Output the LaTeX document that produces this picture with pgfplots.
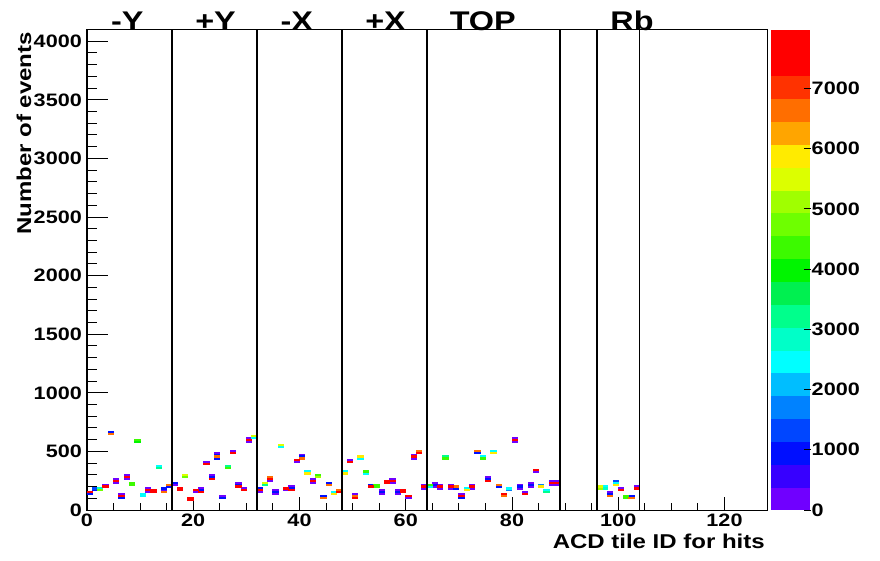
\documentclass[border=0pt]{standalone}
\usepackage{fontspec}
\setmainfont{Liberation Sans}
\newfontfamily\rootfont{Liberation Sans}[FakeStretch=1.2]
\usepackage{pgfplots}
\pgfplotsset{compat=1.18}
\usepackage{pgfplotstable}

\pgfdeclareplotmark{cell}{\pgfpathrectangle{\pgfpoint{-3.1pt}{-1.15pt}}{\pgfpoint{6.2pt}{2.3pt}}\pgfusepathqfill}

\pgfplotstableread{
x y c
0.5 152 7800
0.5 136 1000
1.5 184 1200
1.5 168 1000
2.5 184 2800
2.5 168 4600
3.5 216 200
3.5 200 7800
4.5 664 1000
4.5 648 6700
5.5 264 200
5.5 248 7800
5.5 232 200
6.5 136 200
6.5 120 7800
6.5 104 1000
7.5 296 200
7.5 280 7800
7.5 264 200
8.5 232 4200
8.5 216 4200
9.5 600 4200
9.5 584 4000
10.5 136 2600
10.5 120 2600
11.5 184 200
11.5 168 7800
11.5 152 200
12.5 168 7800
12.5 152 7800
13.5 376 2600
13.5 360 3300
14.5 184 1000
14.5 168 200
14.5 152 6700
15.5 216 6700
15.5 200 1000
16.5 232 1000
16.5 216 200
17.5 184 7800
17.5 168 7800
18.5 296 5400
18.5 280 4600
19.5 104 7800
19.5 88 7800
20.5 168 7800
20.5 152 200
21.5 184 200
21.5 168 1000
21.5 152 7800
22.5 408 200
22.5 392 7800
23.5 296 200
23.5 280 1000
23.5 264 7800
24.5 488 200
24.5 472 1000
24.5 456 6700
24.5 440 1000
25.5 120 200
25.5 104 1000
26.5 376 3300
26.5 360 4200
27.5 504 200
27.5 488 7800
28.5 232 200
28.5 216 1000
28.5 200 7800
29.5 184 200
29.5 168 7800
30.5 616 200
30.5 600 7800
30.5 584 200
31.5 632 5400
31.5 616 2600
32.5 184 1000
32.5 168 7800
32.5 152 200
33.5 232 5400
33.5 216 3300
34.5 280 6700
34.5 264 7800
34.5 248 200
35.5 168 200
35.5 152 1000
35.5 136 200
36.5 552 5400
36.5 536 2600
37.5 184 7800
37.5 168 200
38.5 200 200
38.5 184 1000
38.5 168 7800
39.5 424 7800
39.5 408 200
40.5 472 200
40.5 456 1000
40.5 440 6700
41.5 328 2600
41.5 312 6000
42.5 264 200
42.5 248 7800
42.5 232 200
43.5 296 4200
43.5 280 5000
44.5 120 1000
44.5 104 6700
45.5 232 1000
45.5 216 6700
46.5 152 2600
46.5 136 6000
47.5 168 6700
47.5 152 7800
48.5 328 2600
48.5 312 6000
49.5 424 200
49.5 408 7800
50.5 136 200
50.5 120 6700
50.5 104 7800
51.5 456 6000
51.5 440 2600
52.5 328 4200
52.5 312 2600
53.5 216 1000
53.5 200 7800
54.5 216 4200
54.5 200 4200
55.5 168 200
55.5 152 1000
55.5 136 200
56.5 248 7800
56.5 232 7800
57.5 264 200
57.5 248 7800
57.5 232 200
58.5 168 200
58.5 152 1000
58.5 136 200
59.5 168 7800
59.5 152 7800
60.5 120 7800
60.5 104 200
61.5 472 200
61.5 456 7800
61.5 440 200
62.5 504 6700
62.5 488 7800
63.5 216 200
63.5 200 7800
63.5 184 200
64.5 216 4200
64.5 200 2600
65.5 232 200
65.5 216 1000
65.5 200 200
66.5 216 200
66.5 200 7800
66.5 184 200
67.5 456 3300
67.5 440 4200
68.5 216 200
68.5 200 7800
68.5 184 200
69.5 200 6700
69.5 184 1000
70.5 136 200
70.5 120 7800
70.5 104 1000
71.5 184 2600
71.5 168 6000
72.5 216 200
72.5 200 7800
72.5 184 200
73.5 504 6700
73.5 488 1000
74.5 456 2600
74.5 440 4200
75.5 280 200
75.5 264 1000
75.5 248 7800
76.5 504 2600
76.5 488 6000
77.5 216 6700
77.5 200 1000
78.5 136 7800
78.5 120 6700
79.5 184 2600
79.5 168 1800
80.5 616 200
80.5 600 7800
80.5 584 200
81.5 216 200
81.5 200 1000
81.5 184 200
82.5 152 200
82.5 136 7800
83.5 232 200
83.5 216 1000
83.5 200 200
84.5 344 7800
84.5 328 200
85.5 216 1800
85.5 200 6000
86.5 168 2600
86.5 152 3300
87.5 248 200
87.5 232 7800
87.5 216 200
88.5 248 200
88.5 232 7800
88.5 216 200
96.5 200 5400
96.5 184 5000
97.5 200 2600
97.5 184 3000
98.5 152 200
98.5 136 1000
98.5 120 6700
99.5 248 1400
99.5 232 2600
99.5 216 6000
100.5 184 200
100.5 168 7800
101.5 120 4200
101.5 104 4200
102.5 120 1000
102.5 104 6700
103.5 200 200
103.5 184 7800
}\cells
\pgfplotstablesort[sort key=c]{\sortedcells}{\cells}

\newcommand{\tickfont}{\rootfont\bfseries\fontsize{18}{18}\selectfont}
\newcommand{\titlefont}{\rootfont\bfseries\fontsize{20}{20}\selectfont}
\newcommand{\sectfont}{\rootfont\bfseries\fontsize{27}{27}\selectfont}

\begin{document}
\begin{tikzpicture}
\path[use as bounding box] (-87pt,-50pt) rectangle (793pt,510pt);
\begin{axis}[
  name=main, at={(0,0)}, anchor=south west,
  scale only axis, width=680pt, height=480pt,
  xmin=0, xmax=128, ymin=0, ymax=4096,
  clip mode=individual,
  xtick={0,20,...,120}, minor x tick num=3,
  ytick=\empty,
  xtick pos=left, tick align=inside,
  major tick length=13pt, minor tick length=7pt,
  tick style={black, line width=1pt},
  axis line style={line width=1pt},
  /pgf/number format/1000 sep={},
  /pgf/number format/assume math mode=true,
  xticklabel style={font=\tickfont, inner sep=1pt, yshift=-3pt},
  xlabel={ACD tile ID for hits},
  xlabel style={font=\titlefont, at={(axis description cs:0.997,-0.05)}, anchor=north east, inner sep=0pt},
  colormap={rootpal}{rgb255=(112,0,255) rgb255=(55,0,255) rgb255=(0,15,255) rgb255=(0,70,255)
     rgb255=(0,130,255) rgb255=(0,190,255) rgb255=(0,255,255) rgb255=(0,255,200)
     rgb255=(0,255,140) rgb255=(0,240,80) rgb255=(0,245,0) rgb255=(60,250,0)
     rgb255=(110,255,0) rgb255=(160,255,0) rgb255=(220,255,0) rgb255=(255,235,0)
     rgb255=(255,165,0) rgb255=(255,110,0) rgb255=(255,50,0) rgb255=(255,0,0) rgb255=(255,0,0)},
  colormap access=piecewise constant,
  point meta min=0, point meta max=7970,
  colorbar,
  colorbar style={
    at={(parent axis.north east)}, anchor=north west, xshift=-5pt,
    width=40pt,
    ytick={0,1000,...,7000},
    ytick pos=right, yticklabel pos=right,
    tick align=inside, major tick length=7pt,
    tick style={black, line width=0.8pt},
    axis line style={draw=none},
    yticklabel style={font=\tickfont, inner xsep=1pt},
    /pgf/number format/1000 sep={},
    /pgf/number format/assume math mode=true,
  },
]
\addplot[scatter, only marks, mark=cell, point meta=explicit,
  scatter/use mapped color={draw=none, fill=mapped color}]
  table[x=x, y=y, meta=c] {\sortedcells};
\addplot[black, line width=1.5pt] coordinates {(16,0) (16,4096)};
\addplot[black, line width=1.5pt] coordinates {(32,0) (32,4096)};
\addplot[black, line width=1.5pt] coordinates {(48,0) (48,4096)};
\addplot[black, line width=1.5pt] coordinates {(64,0) (64,4096)};
\addplot[black, line width=1.5pt] coordinates {(89,0) (89,4096)};
\addplot[black, line width=1.5pt] coordinates {(96,0) (96,4096)};
\addplot[black, line width=1.5pt] coordinates {(104,0) (104,4096)};
\node[font=\sectfont, anchor=base, inner sep=0pt] at (axis cs:7.6,4096) [yshift=-1pt] {-Y};
\node[font=\sectfont, anchor=base, inner sep=0pt] at (axis cs:24.2,4096) [yshift=-1pt] {+Y};
\node[font=\sectfont, anchor=base, inner sep=0pt] at (axis cs:39.5,4096) [yshift=-1pt] {-X};
\node[font=\sectfont, anchor=base, inner sep=0pt] at (axis cs:56.2,4096) [yshift=-1pt] {+X};
\node[font=\sectfont, anchor=base, inner sep=0pt] at (axis cs:74.5,4096) [yshift=-1pt] {TOP};
\node[font=\sectfont, anchor=base, inner sep=0pt] at (axis cs:102.6,4096) [yshift=-1pt] {Rb};
\end{axis}
\begin{axis}[
  at={(0,0)}, anchor=south west,
  scale only axis, width=680pt, height=480pt,
  xmin=0, xmax=128, ymin=0, ymax=4096,
  xtick=\empty,
  ytick={0,500,...,4000}, minor y tick num=4,
  ytick pos=left, tick align=inside,
  major tick length=21pt, minor tick length=10pt,
  tick style={black, line width=1pt},
  axis line style={line width=1pt},
  scaled y ticks=false,
  /pgf/number format/1000 sep={},
  /pgf/number format/assume math mode=true,
  yticklabel style={font=\tickfont, inner sep=1pt, xshift=-4pt},
  ylabel={Number of events},
  ylabel style={font=\titlefont, at={(axis description cs:-0.0926,0.996)}, anchor=east, inner sep=0pt},
]
\end{axis}
\end{tikzpicture}
\end{document}
